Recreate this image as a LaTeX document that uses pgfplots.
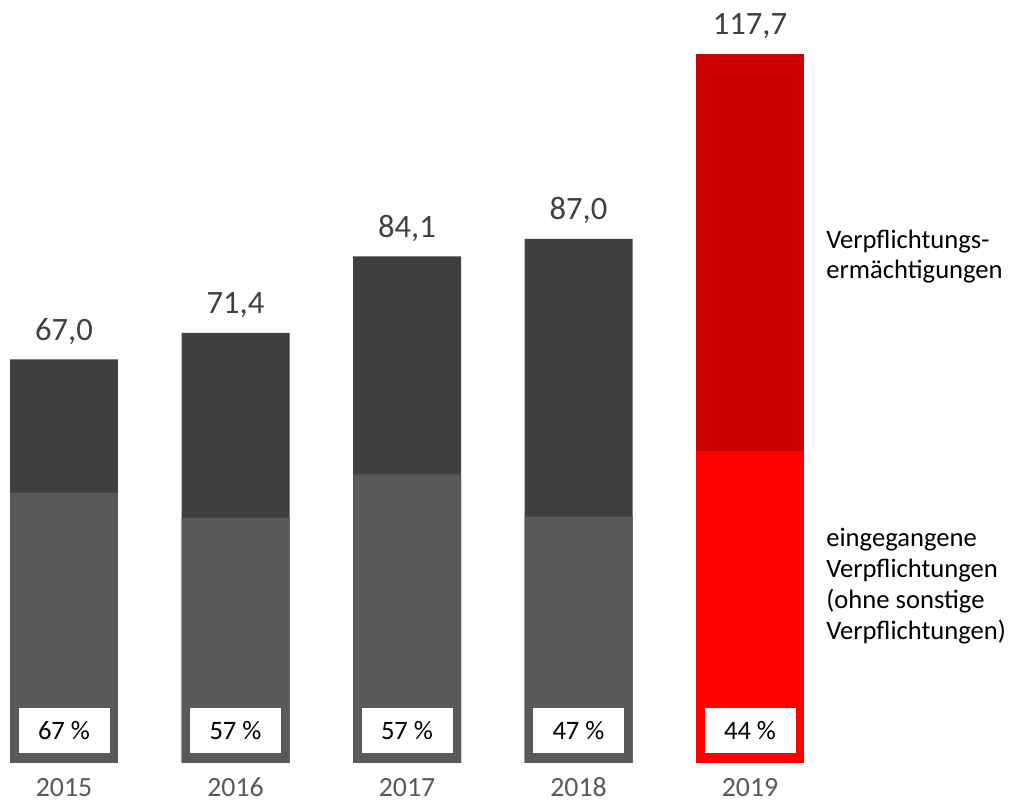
\documentclass[border=0pt]{standalone}
\usepackage{pgfplots}
\pgfplotsset{compat=1.18}
\usepackage{fontspec}
\setmainfont{Carlito}
\definecolor{darkg}{HTML}{3F3F3F}
\definecolor{midg}{HTML}{595959}
\definecolor{redd}{HTML}{CC0000}
\definecolor{redl}{HTML}{FF0000}
\definecolor{valc}{HTML}{404040}
\begin{document}
\begin{tikzpicture}
\begin{axis}[
  scale only axis, width=505.5pt, height=401pt,
  xmin=-0.37318, xmax=5.52187, ymin=-6.4743, ymax=126.664,
  hide axis, clip=false,
  ybar, bar width=0.6297, bar shift=0pt,
  /pgf/number format/assume math mode=true,
]
\path (rel axis cs:0,0) rectangle (rel axis cs:1,1);
% totals
\addplot[fill=darkg, draw=none,
  nodes near coords, point meta=y,
  nodes near coords style={anchor=base, yshift=9.5pt, inner sep=0pt, text=valc, font=\fontsize{16.3}{18}\selectfont,
    /pgf/number format/.cd, fixed, fixed zerofill, precision=1, use comma, assume math mode=true}]
  coordinates {(0,67.0) (1,71.4) (2,84.1) (3,87.0)};
\addplot[fill=redd, draw=none,
  nodes near coords, point meta=y,
  nodes near coords style={anchor=base, yshift=9.5pt, inner sep=0pt, text=valc, font=\fontsize{16.3}{18}\selectfont,
    /pgf/number format/.cd, fixed, fixed zerofill, precision=1, use comma, assume math mode=true}]
  coordinates {(4,117.7)};
% eingegangene Verpflichtungen
\addplot[fill=midg, draw=none] coordinates {(0,44.9) (1,40.7) (2,47.9) (3,40.9)};
\addplot[fill=redl, draw=none] coordinates {(4,51.8)};
% percentage boxes
\addplot[only marks, mark=none, nodes near coords, point meta=explicit symbolic,
  nodes near coords style={anchor=center, fill=white, text=black, inner sep=0pt,
    minimum width=45.5pt, minimum height=22.5pt, font=\fontsize{13.3}{15}\selectfont}]
  coordinates {(0,5.395)[67~\%] (1,5.395)[57~\%] (2,5.395)[57~\%] (3,5.395)[47~\%] (4,5.395)[44~\%]};
% year labels
\addplot[only marks, mark=none, nodes near coords, point meta=explicit symbolic,
  nodes near coords style={anchor=base, inner sep=0pt, text=midg, font=\fontsize{13.9}{16}\selectfont}]
  coordinates {(0,-5.644)[2015] (1,-5.644)[2016] (2,-5.644)[2017] (3,-5.644)[2018] (4,-5.644)[2019]};
% right-side labels
\begin{scope}[every node/.style={anchor=base west, inner sep=0pt, text=black, font=\fontsize{13.3}{15}\selectfont}]
\node at (axis cs:4.4431,85.49) {Verpflichtungs-};
\node at (axis cs:4.4431,80.51) {ermächtigungen};
\node at (axis cs:4.4431,36.02) {eingegangene};
\node at (axis cs:4.4431,30.87) {Verpflichtungen};
\node at (axis cs:4.4431,25.73) {(ohne sonstige};
\node at (axis cs:4.4431,20.58) {Verpflichtungen)};
\end{scope}
\end{axis}
\end{tikzpicture}
\end{document}
